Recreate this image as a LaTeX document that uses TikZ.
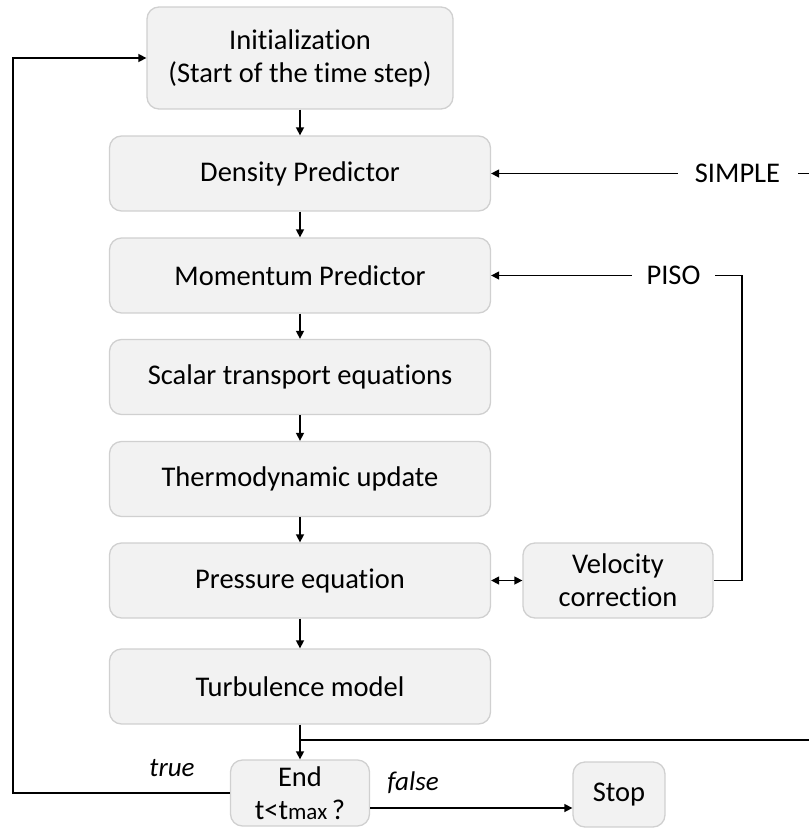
\documentclass[tikz,border=0pt]{standalone}
\usepackage{fontspec}
\setmainfont{Carlito}[Ligatures=CommonOff]
\usetikzlibrary{arrows.meta}
\definecolor{boxfill}{HTML}{F2F2F2}
\definecolor{boxborder}{HTML}{D0D0D0}
\begin{document}
\begin{tikzpicture}[x=1pt,y=-1pt,
  box/.style={draw=boxborder, fill=boxfill, line width=1.3pt, rounded corners=12pt,
    align=center, inner sep=0pt, font=\fontsize{28.5}{33}\selectfont},
  lbl/.style={inner sep=0pt, font=\fontsize{28.5}{33}\selectfont},
  conn/.style={line width=1.5pt, -{Triangle[length=8pt,width=8pt]}},
  dconn/.style={line width=1.5pt, {Triangle[length=8pt,width=8pt]}-{Triangle[length=8pt,width=8pt]}},
  plain/.style={line width=1.5pt}]
\useasboundingbox (0,0) rectangle (809,828);

\node[box, minimum width=306pt, minimum height=102pt] (init) at (300,58) {Initialization\\(Start of the time step)};
\node[box, minimum width=381pt, minimum height=75pt] (dens) at (300,173.5) {Density Predictor};
\node[box, minimum width=381pt, minimum height=75pt] (mom) at (300,275.5) {Momentum Predictor};
\node[box, minimum width=381pt, minimum height=75pt] (scal) at (300,377) {Scalar transport equations};
\node[box, minimum width=381pt, minimum height=75pt] (thermo) at (300,479) {Thermodynamic update};
\node[box, minimum width=381pt, minimum height=75pt] (press) at (300,580.5) {Pressure equation};
\node[box, minimum width=381pt, minimum height=75pt] (turb) at (300,686.5) {Turbulence model};
\node[box, minimum width=190pt, minimum height=75pt] (vel) at (618,580.5) {Velocity\\correction};
\node[box, minimum width=139pt, minimum height=66pt] (endn) at (300,793) {End\\t<t{\fontsize{23}{26}\selectfont max}\,?};
\node[box, minimum width=92pt, minimum height=65pt] (stop) at (619,794.5) {Stop};

\node[lbl, inner xsep=17pt] (simple) at (737.5,173.5) {SIMPLE};
\node[lbl, inner xsep=14.5pt] (piso) at (673.5,275.5) {PISO};
\node[lbl, font=\fontsize{27}{30}\selectfont\itshape] (true) at (172,768) {true};
\node[lbl, font=\fontsize{27}{30}\selectfont\itshape] (false) at (413,783) {false};

\coordinate (lp) at (13,58);
\coordinate (j) at (300,740);
\coordinate (rs) at (809,740);
\coordinate (s1) at (798,173.5);
\coordinate (s2) at (809,173.5);
\coordinate (pc) at (742,275.5);

\draw[conn] (init) -- (dens);
\draw[conn] (dens) -- (mom);
\draw[conn] (mom) -- (scal);
\draw[conn] (scal) -- (thermo);
\draw[conn] (thermo) -- (press);
\draw[conn] (press) -- (turb);
\draw[conn] (turb) -- (endn);
\draw[plain] (j) -- (rs);
\draw[plain] (s1) -- (s2);
\draw[conn] (simple.west) -- (dens.east);
\draw[conn] (piso.west) -- (mom.east);
\draw[plain] (piso.east) -- (pc) |- (vel.east);
\draw[dconn] (press.east) -- (vel.west);
\draw[conn] (endn.west) -| (lp) -- (init.west);
\draw[conn] ([yshift=-15pt]endn.east) -- ([yshift=-15pt]endn.east -| stop.west);
\end{tikzpicture}
\end{document}
